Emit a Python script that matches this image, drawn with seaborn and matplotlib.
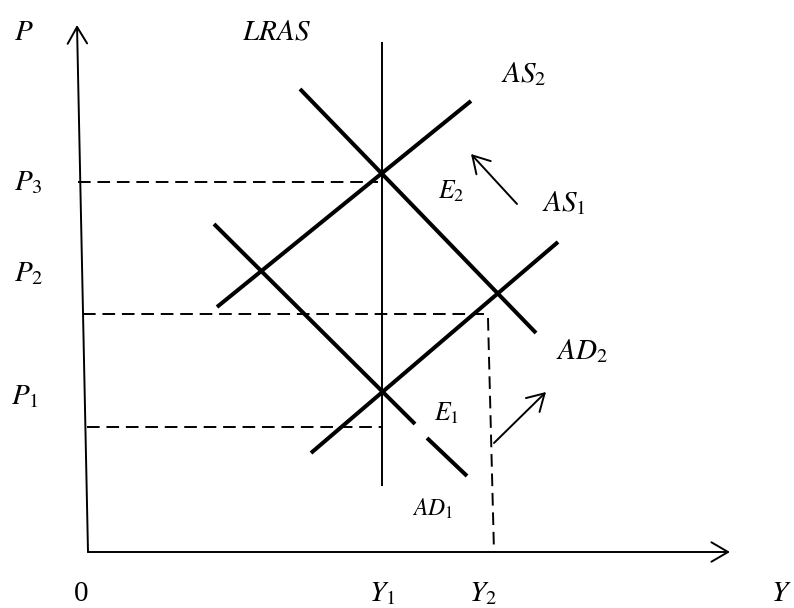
import numpy as np
import pandas as pd
import matplotlib
matplotlib.use('Agg')
import matplotlib.pyplot as plt
import seaborn as sns

# curve end points (pixel space, y grows downwards)
curve_names = ['LRAS', 'AS2', 'AS1', 'AD2', 'AD1a', 'AD1b']
curve_x = [[382, 382], [217, 471], [311, 558], [300, 536], [214, 415], [427, 467]]
curve_y = [[42, 486], [307, 101], [453, 242], [89, 333], [224, 424], [438, 476]]
curve_width = [1.4, 2.9, 2.9, 2.9, 2.9, 2.9]

# dashed guide lines
guide_x = [[78, 378], [83, 484], [87, 382], [488, 494]]
guide_y = [[182, 182], [314, 314], [427, 427], [318, 552]]

# axes (tail -> tip) and shift arrows
axis_tail = [(88, 552), (88, 552)]
axis_tip = [(77, 25), (730, 552)]
shift_tail = [(517, 204), (494, 443)]
shift_tip = [(471, 154), (546, 392)]

# labels
label_text = ['$P$', '$LRAS$', '$AS_2$', '$E_2$', '$AS_1$', '$P_3$', '$P_2$',
              '$P_1$', '$AD_2$', '$E_1$', '$AD_1$', '0', '$Y_1$', '$Y_2$', '$Y$']
label_x = [14, 242, 501, 438, 542, 14, 14, 11, 556, 434, 412, 74, 369, 469, 771]
label_y = [40, 40, 82, 198, 211, 190, 281, 404, 359, 420, 516, 601, 601, 601, 601]
label_size = [21, 21, 21, 18.5, 21, 21, 21, 21, 21, 18.5, 17, 21, 21, 21, 21]

sns.set_theme(style='white')
plt.rcParams['mathtext.fontset'] = 'stix'
plt.rcParams['font.family'] = ['Liberation Serif', 'DejaVu Serif']

fig = plt.figure(figsize=(7.94, 6.08), dpi=100)
ax = fig.add_axes([0, 0, 1, 1])

for name, xs, ys, lw in zip(curve_names, curve_x, curve_y, curve_width):
    d = pd.DataFrame({'x': xs, 'y': ys})
    sns.lineplot(data=d, x='x', y='y', sort=False, estimator=None,
                 color='black', linewidth=lw, ax=ax, solid_capstyle='butt')

for xs, ys in zip(guide_x, guide_y):
    d = pd.DataFrame({'x': xs, 'y': ys})
    sns.lineplot(data=d, x='x', y='y', sort=False, estimator=None,
                 color='black', linewidth=1.4, linestyle=(0, (6.5, 3.5)), ax=ax)

arrow_style = '->,head_length=0.6,head_width=0.35'
for t, h in zip(axis_tail + shift_tail, axis_tip + shift_tip):
    ax.annotate('', xy=h, xytext=t,
                arrowprops=dict(arrowstyle=arrow_style, color='black', lw=1.4,
                                mutation_scale=20, shrinkA=0, shrinkB=0))

for s, x, y, fs in zip(label_text, label_x, label_y, label_size):
    ax.text(x, y, s, fontsize=fs, ha='left', va='baseline', color='black')

ax.set_xlim(0, 794)
ax.set_ylim(608, 0)
ax.axis('off')

fig.savefig('out.png', dpi=100)
